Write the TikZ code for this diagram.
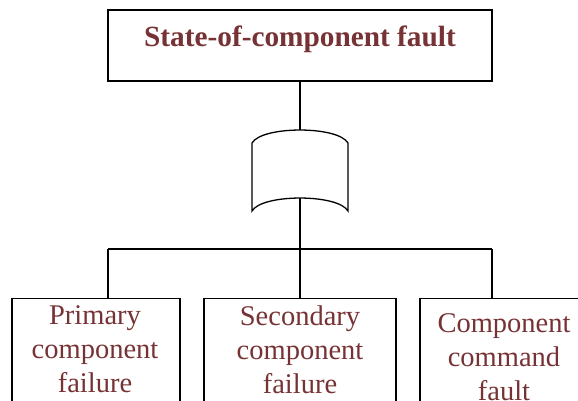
\documentclass[tikz,border=0pt]{standalone}
\usepackage{fontspec}
\setmainfont{Liberation Serif}
\definecolor{labelred}{RGB}{118,50,52}
\begin{document}
\begin{tikzpicture}[x=1pt,y=-1pt,
  line width=1.3pt,
  box/.style={draw,rectangle,inner sep=0pt,line width=1.3pt},
  toptext/.style={text=labelred,font=\fontsize{29.3}{34}\selectfont\bfseries,anchor=base,inner sep=0pt},
  subtext/.style={text=labelred,font=\fontsize{28.5}{34}\selectfont,align=center,anchor=north,inner sep=0pt}]
\useasboundingbox (0,0) rectangle (578,401);
\clip (0,0) rectangle (578,401);

% top event
\node[box,minimum width=384pt,minimum height=71pt] (top) at (300,45.5) {};
\node[toptext] (toplabel) at (300,47) {State-of-component fault};

% OR gate outline
\coordinate (gtop) at (300,130);
\coordinate (gbot) at (300,198);
\draw (252,143) .. controls (262,125.7) and (338,125.7) .. (348,143)
      -- (348,211) .. controls (338,193.7) and (262,193.7) .. (252,211) -- cycle;

% lower events (boxes run past the lower edge)
\node[box,minimum width=168pt,minimum height=140pt,anchor=north] (b1) at (96,298) {};
\node[box,minimum width=192pt,minimum height=140pt,anchor=north] (b2) at (300,298) {};
\node[box,minimum width=168pt,minimum height=140pt,anchor=north] (b3) at (504,298) {};

\node[subtext] (t1) at (95,305) {Primary\\component\\failure};
\node[subtext] (t2) at (300,305) {Secondary\\component\\failure};
\node[subtext] (t3) at (504,313) {Component\\command\\fault};

% connectors
\coordinate (bus) at (300,249);
\coordinate (j1) at (108,249);
\coordinate (j3) at (492,249);
\draw (top.south) -- (gtop);
\draw (gbot) -- (bus);
\draw (j1) -- (j3);
\draw (j1) -- (j1 |- b1.north);
\draw (bus) -- (b2.north);
\draw (j3) -- (j3 |- b3.north);
\end{tikzpicture}
\end{document}
